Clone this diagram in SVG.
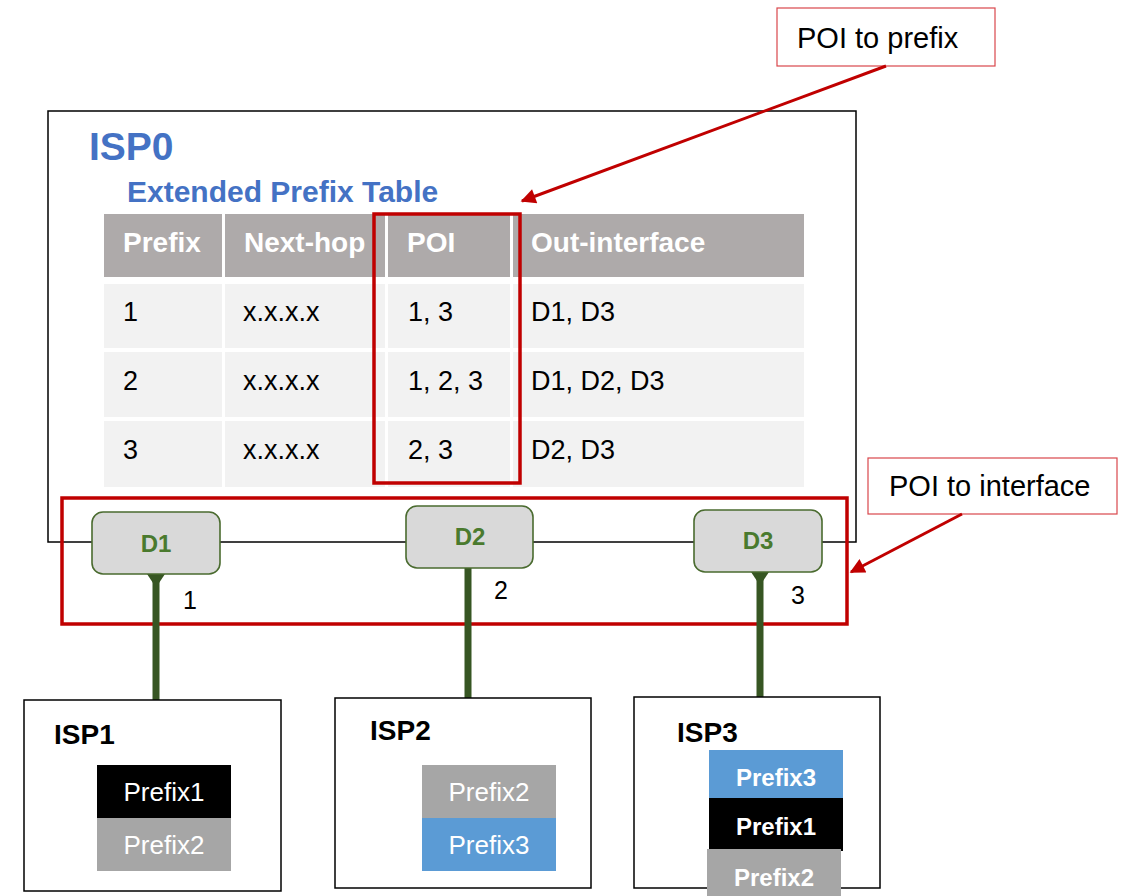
<svg xmlns="http://www.w3.org/2000/svg" width="1125" height="896" viewBox="0 0 1125 896">
  <style>
    text { font-family: "Liberation Sans", Arial, sans-serif; }
    .frame { fill: #ffffff; stroke: #000000; stroke-width: 1.5; }
    .hdr { fill: #aeaaaa; }
    .row { fill: #f2f2f2; }
    .hdrTxt { fill: #ffffff; font-weight: bold; font-size: 28px; }
    .cell { fill: #000000; font-size: 27px; }
    .hi { fill: none; stroke: #c00000; stroke-width: 3.5; }
    .callout { fill: #ffffff; stroke: #d9474b; stroke-width: 1.2; }
    .calloutTxt { fill: #000000; font-size: 29px; }
    .dev { fill: #d9d9d9; stroke: #4a6b2f; stroke-width: 1.6; }
    .devTxt { fill: #4a7a2e; font-weight: bold; font-size: 24px; text-anchor: middle; }
    .link { stroke: #375623; stroke-width: 7; fill: none; }
    .arrow { stroke: #c00000; stroke-width: 3; fill: none; marker-end: url(#redHead); }
    .port { fill: #000000; font-size: 25px; }
    .isp { fill: #ffffff; stroke: #000000; stroke-width: 1.5; }
    .ispTxt { fill: #000000; font-weight: bold; font-size: 28px; }
    .pfx { fill: #ffffff; font-size: 26px; text-anchor: middle; }
    .pfxB { fill: #ffffff; font-size: 24px; font-weight: bold; text-anchor: middle; }
    .c1 { fill: #000000; }
    .c2 { fill: #a6a6a6; }
    .c3 { fill: #5b9bd5; }
  </style>
  <defs>
    <marker id="redHead" viewBox="0 0 10 10" refX="9" refY="5" markerWidth="18" markerHeight="15" markerUnits="userSpaceOnUse" orient="auto">
      <path d="M0,0 L10,5 L0,10 z" fill="#c00000"/>
    </marker>
  </defs>

  <!-- ISP0 domain with its extended prefix table -->
  <g id="isp0">
    <rect class="frame" x="48" y="111" width="808" height="431"/>
    <text x="89" y="160" fill="#4472c4" font-weight="bold" font-size="39">ISP0</text>
    <text x="127" y="202" fill="#4472c4" font-weight="bold" font-size="30">Extended Prefix Table</text>
  </g>

  <g id="prefix-table">
    <!-- header -->
    <rect class="hdr" x="104" y="214" width="118" height="63"/>
    <rect class="hdr" x="225" y="214" width="160" height="63"/>
    <rect class="hdr" x="388" y="214" width="122" height="63"/>
    <rect class="hdr" x="513" y="214" width="291" height="63"/>
    <text class="hdrTxt" x="123" y="252">Prefix</text>
    <text class="hdrTxt" x="244" y="252">Next-hop</text>
    <text class="hdrTxt" x="407" y="252">POI</text>
    <text class="hdrTxt" x="531" y="252">Out-interface</text>
    <!-- row 1 -->
    <rect class="row" x="104" y="284" width="118" height="64"/>
    <rect class="row" x="225" y="284" width="160" height="64"/>
    <rect class="row" x="388" y="284" width="122" height="64"/>
    <rect class="row" x="513" y="284" width="291" height="64"/>
    <text class="cell" x="123" y="321">1</text>
    <text class="cell" x="243" y="321">x.x.x.x</text>
    <text class="cell" x="408" y="321">1, 3</text>
    <text class="cell" x="531" y="321">D1, D3</text>
    <!-- row 2 -->
    <rect class="row" x="104" y="352" width="118" height="65"/>
    <rect class="row" x="225" y="352" width="160" height="65"/>
    <rect class="row" x="388" y="352" width="122" height="65"/>
    <rect class="row" x="513" y="352" width="291" height="65"/>
    <text class="cell" x="123" y="390">2</text>
    <text class="cell" x="243" y="390">x.x.x.x</text>
    <text class="cell" x="408" y="390">1, 2, 3</text>
    <text class="cell" x="531" y="390">D1, D2, D3</text>
    <!-- row 3 -->
    <rect class="row" x="104" y="421" width="118" height="66"/>
    <rect class="row" x="225" y="421" width="160" height="66"/>
    <rect class="row" x="388" y="421" width="122" height="66"/>
    <rect class="row" x="513" y="421" width="291" height="66"/>
    <text class="cell" x="123" y="459">3</text>
    <text class="cell" x="243" y="459">x.x.x.x</text>
    <text class="cell" x="408" y="459">2, 3</text>
    <text class="cell" x="531" y="459">D2, D3</text>
  </g>

  <!-- highlight frames -->
  <g id="poi-column-highlight">
    <rect class="hi" x="374" y="214" width="146" height="269"/>
  </g>
  <g id="interface-highlight">
    <rect class="hi" x="62" y="498" width="785" height="126"/>
  </g>

  <!-- callouts -->
  <g id="callout-prefix">
    <rect class="callout" x="777" y="8" width="218" height="58"/>
    <text class="calloutTxt" x="797" y="48">POI to prefix</text>
  </g>
  <g id="callout-interface">
    <rect class="callout" x="868" y="458" width="249" height="56"/>
    <text class="calloutTxt" x="889" y="496">POI to interface</text>
  </g>

  <!-- links and arrows -->
  <g id="connectors">
    <line class="link" x1="156" y1="574" x2="156" y2="701"/>
    <polygon points="147,574 165,574 159,583 153,583" fill="#375623"/>
    <line class="link" x1="468" y1="568" x2="468" y2="699"/>
    <line class="link" x1="760" y1="572" x2="760" y2="698"/>
    <polygon points="751,572 769,572 763,581 757,581" fill="#375623"/>
    <line class="arrow" x1="886" y1="66" x2="522" y2="201"/>
    <line class="arrow" x1="962" y1="514" x2="851" y2="572"/>
  </g>

  <!-- egress devices -->
  <g id="d1">
    <rect class="dev" x="92" y="512" width="128" height="62" rx="11"/>
    <text class="devTxt" x="156" y="552">D1</text>
  </g>
  <g id="d2">
    <rect class="dev" x="406" y="506" width="127" height="62" rx="11"/>
    <text class="devTxt" x="470" y="545">D2</text>
  </g>
  <g id="d3">
    <rect class="dev" x="694" y="510" width="128" height="62" rx="11"/>
    <text class="devTxt" x="758" y="549">D3</text>
  </g>

  <!-- port numbers -->
  <g id="ports">
    <text class="port" x="183" y="609">1</text>
    <text class="port" x="494" y="599">2</text>
    <text class="port" x="791" y="604">3</text>
  </g>

  <!-- neighbour ISPs -->
  <g id="isp1">
    <rect class="isp" x="24" y="700" width="257" height="191"/>
    <text class="ispTxt" x="54" y="744">ISP1</text>
    <rect class="c1" x="97" y="765" width="134" height="53"/>
    <rect class="c2" x="97" y="818" width="134" height="53"/>
    <text class="pfx" x="164" y="801">Prefix1</text>
    <text class="pfx" x="164" y="854">Prefix2</text>
  </g>
  <g id="isp2">
    <rect class="isp" x="335" y="698" width="256" height="190"/>
    <text class="ispTxt" x="370" y="740">ISP2</text>
    <rect class="c2" x="422" y="765" width="134" height="53"/>
    <rect class="c3" x="422" y="818" width="134" height="53"/>
    <text class="pfx" x="489" y="801">Prefix2</text>
    <text class="pfx" x="489" y="854">Prefix3</text>
  </g>
  <g id="isp3">
    <rect class="isp" x="634" y="697" width="246" height="191"/>
    <text class="ispTxt" x="677" y="742">ISP3</text>
    <rect class="c3" x="709" y="750" width="134" height="48"/>
    <rect class="c1" x="709" y="798" width="134" height="53"/>
    <rect class="c2" x="707" y="849" width="134" height="47"/>
    <text class="pfxB" x="776" y="786">Prefix3</text>
    <text class="pfxB" x="776" y="835">Prefix1</text>
    <text class="pfxB" x="774" y="886">Prefix2</text>
  </g>
</svg>
